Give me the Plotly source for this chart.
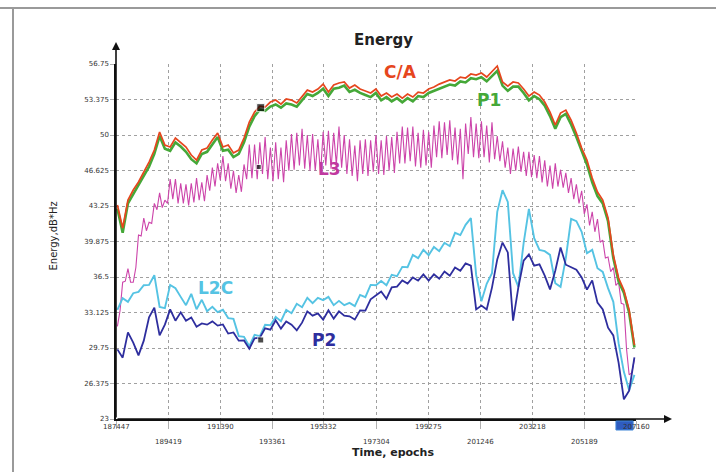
import plotly.graph_objects as go

# ---------------- data ----------------
EPOCHS = [187500, 187700, 187900, 188100, 188300, 188500, 188700, 188900, 189100, 189300,
          189500, 189700, 189900, 190100, 190300, 190500, 190700, 190900, 191100, 191300,
          191500, 191700, 191900, 192100, 192300, 192500, 192700, 192900, 193100, 193300,
          193500, 193700, 193900, 194100, 194300, 194500, 194700, 194900, 195100, 195300,
          195500, 195700, 195900, 196100, 196300, 196500, 196700, 196900, 197100, 197300,
          197500, 197700, 197900, 198100, 198300, 198500, 198700, 198900, 199100, 199300,
          199500, 199700, 199900, 200100, 200300, 200500, 200700, 200900, 201100, 201300,
          201500, 201700, 201900, 202100, 202300, 202500, 202700, 202900, 203100, 203300,
          203500, 203700, 203900, 204100, 204300, 204500, 204700, 204900, 205100, 205300,
          205500, 205700, 205900, 206100, 206300, 206500, 206700, 206900, 207100]

CA = [43.34, 41.16, 43.82, 44.77, 45.53, 46.48, 47.43, 48.57, 50.28, 49.05,
      48.86, 49.71, 49.24, 48.86, 48.10, 47.62, 48.57, 48.76, 49.52, 50.19,
      48.86, 49.05, 48.29, 48.57, 49.71, 51.23, 52.18, 52.75, 52.66, 53.13,
      53.32, 52.94, 53.42, 53.32, 53.04, 53.70, 54.27, 54.08, 54.37, 54.84,
      54.08, 54.75, 54.94, 55.04, 54.46, 54.75, 54.37, 54.18, 53.99, 54.37,
      53.70, 53.99, 53.61, 53.89, 53.51, 53.89, 53.61, 54.08, 53.99, 54.37,
      54.56, 54.84, 55.04, 55.23, 55.13, 55.51, 55.42, 55.80, 55.70, 55.89,
      55.51, 55.99, 56.56, 55.04, 54.65, 55.04, 54.94, 54.37, 53.70, 54.08,
      53.80, 53.13, 52.18, 50.95, 52.09, 52.37, 51.42, 50.19, 48.76, 47.62,
      45.91, 44.58, 43.82, 42.11, 38.59, 36.40, 35.26, 33.36, 30.03]

P1 = [43.0, 40.7, 43.5, 44.4, 45.2, 46.1, 47.0, 48.2, 49.9, 48.7,
      48.5, 49.3, 48.9, 48.4, 47.7, 47.3, 48.2, 48.4, 49.1, 49.8,
      48.5, 48.6, 47.9, 48.2, 49.3, 50.8, 51.8, 52.4, 52.3, 52.7,
      52.9, 52.6, 53.0, 52.9, 52.7, 53.3, 53.9, 53.7, 54.0, 54.4,
      53.7, 54.4, 54.5, 54.7, 54.1, 54.3, 54.0, 53.8, 53.6, 54.0,
      53.3, 53.6, 53.2, 53.5, 53.1, 53.5, 53.2, 53.7, 53.6, 54.0,
      54.2, 54.4, 54.6, 54.8, 54.7, 55.1, 55.0, 55.4, 55.3, 55.5,
      55.1, 55.6, 56.1, 54.7, 54.2, 54.6, 54.6, 54.0, 53.3, 53.7,
      53.4, 52.8, 51.8, 50.6, 51.7, 52.0, 51.0, 49.8, 48.4, 47.2,
      45.5, 44.2, 43.5, 41.8, 38.3, 36.1, 35.0, 33.1, 29.8]

L2C = [33.38, 34.49, 34.14, 34.96, 35.09, 35.72, 35.75, 36.67, 33.66, 33.54,
       35.75, 35.44, 34.61, 33.82, 34.90, 33.44, 34.33, 33.25, 33.66, 33.16,
       33.38, 32.59, 32.52, 30.88, 30.81, 29.92, 31.00, 30.88, 31.95, 31.92,
       32.71, 32.30, 33.38, 33.06, 33.95, 33.63, 34.52, 34.01, 34.52, 34.30,
       34.61, 33.82, 34.23, 33.82, 34.04, 33.73, 34.80, 34.58, 35.75, 35.72,
       36.13, 35.72, 36.70, 36.58, 37.46, 37.43, 38.60, 38.29, 39.08, 38.57,
       39.36, 38.96, 39.75, 39.43, 40.70, 40.48, 41.46, 42.09, 36.70, 34.20,
       35.85, 36.86, 42.69, 44.75, 43.64, 36.86, 35.56, 39.72, 42.98, 40.19,
       39.08, 38.96, 38.60, 35.91, 35.56, 38.29, 42.03, 41.81, 40.79, 38.76,
       39.08, 37.34, 36.99, 35.44, 34.14, 30.21, 27.48, 25.74, 27.20]

P2 = [29.62, 28.83, 31.23, 30.26, 29.05, 30.45, 32.66, 33.59, 30.95, 31.97,
      33.42, 32.35, 33.14, 32.35, 32.66, 31.78, 32.09, 31.97, 32.28, 31.88,
      31.99, 31.12, 31.23, 30.45, 30.47, 29.69, 30.66, 30.73, 31.62, 31.49,
      32.38, 31.59, 32.28, 31.97, 31.43, 32.16, 33.23, 32.83, 33.04, 32.45,
      33.33, 32.54, 33.23, 32.83, 32.76, 32.45, 33.33, 33.30, 34.37, 34.73,
      35.13, 34.44, 35.51, 35.58, 36.18, 35.87, 36.46, 36.15, 36.75, 36.15,
      36.75, 36.34, 37.03, 36.63, 37.41, 37.10, 37.79, 37.58, 33.42, 33.78,
      33.42, 35.49, 38.17, 39.77, 38.84, 32.35, 35.51, 38.05, 38.65, 37.58,
      37.70, 36.63, 35.32, 37.10, 39.31, 37.67, 37.41, 37.20, 36.46, 35.30,
      36.18, 34.06, 33.42, 31.68, 30.95, 28.36, 24.87, 25.70, 28.86]

L3_EPOCHS = [187500, 187600, 187700, 187800, 187900, 188000, 188100, 188200, 188300, 188400,
             188500, 188600, 188700, 188800, 188900, 189000, 189100, 189200, 189300, 189400,
             189500, 189600, 189700, 189800, 189900, 190000, 190100, 190200, 190300, 190400,
             190500, 190600, 190700, 190800, 190900, 191000, 191100, 191200, 191300, 191400,
             191500, 191600, 191700, 191800, 191900, 192000, 192100, 192200, 192300, 192400,
             192500, 192600, 192700, 192800, 192900, 193000, 193100, 193200, 193300, 193400,
             193500, 193600, 193700, 193800, 193900, 194000, 194100, 194200, 194300, 194400,
             194500, 194600, 194700, 194800, 194900, 195000, 195100, 195200, 195300, 195400,
             195500, 195600, 195700, 195800, 195900, 196000, 196100, 196200, 196300, 196400,
             196500, 196600, 196700, 196800, 196900, 197000, 197100, 197200, 197300, 197400,
             197500, 197600, 197700, 197800, 197900, 198000, 198100, 198200, 198300, 198400,
             198500, 198600, 198700, 198800, 198900, 199000, 199100, 199200, 199300, 199400,
             199500, 199600, 199700, 199800, 199900, 200000, 200100, 200200, 200300, 200400,
             200500, 200600, 200700, 200800, 200900, 201000, 201100, 201200, 201300, 201400,
             201500, 201600, 201700, 201800, 201900, 202000, 202100, 202200, 202300, 202400,
             202500, 202600, 202700, 202800, 202900, 203000, 203100, 203200, 203300, 203400,
             203500, 203600, 203700, 203800, 203900, 204000, 204100, 204200, 204300, 204400,
             204500, 204600, 204700, 204800, 204900, 205000, 205100, 205200, 205300, 205400,
             205500, 205600, 205700, 205800, 205900, 206000, 206100, 206200, 206300, 206400,
             206500, 206600, 206700, 206800, 206900, 207000, 207100]

L3 = [31.8, 33.3, 36.0, 36.1, 37.3, 36.0, 36.0, 37.4, 40.5, 40.4, 42.1, 40.9, 41.7, 41.6, 43.5, 42.9, 44.5, 43.1, 43.8, 43.5,
      45.8, 43.9, 45.8, 43.5, 45.4, 43.5, 45.3, 43.3, 45.4, 43.6, 45.9, 43.8, 45.5, 43.7, 46.2, 44.7, 46.9, 45.1, 47.3, 45.7,
      48.0, 45.6, 47.3, 44.9, 46.6, 44.5, 46.2, 44.6, 47.2, 45.8, 49.1, 45.9, 49.1, 45.8, 49.3, 46.3, 49.8, 45.8, 48.8, 45.6,
      49.3, 45.8, 48.8, 45.5, 49.5, 46.6, 50.1, 46.7, 50.2, 47.1, 50.6, 46.8, 50.0, 46.6, 50.1, 46.6, 49.6, 46.3, 50.3, 47.1,
      50.4, 46.8, 50.2, 47.2, 50.8, 46.9, 50.0, 46.3, 49.6, 46.1, 49.0, 45.6, 49.5, 46.3, 49.6, 46.1, 49.5, 46.5, 50.0, 46.3,
      49.5, 46.2, 49.9, 46.6, 49.8, 46.4, 50.3, 47.3, 50.8, 47.3, 50.7, 47.5, 50.8, 47.0, 50.2, 46.9, 50.5, 47.1, 50.3, 46.9,
      50.9, 47.9, 51.3, 47.8, 51.2, 48.1, 51.4, 47.6, 50.7, 47.2, 50.6, 45.8, 51.1, 48.2, 51.7, 47.9, 51.1, 47.8, 51.3, 47.9,
      50.9, 47.4, 51.2, 47.7, 49.9, 47.5, 49.4, 46.9, 48.8, 46.3, 48.7, 46.6, 48.9, 46.5, 48.4, 46.1, 48.4, 46.0, 48.1, 45.9,
      48.0, 45.5, 47.6, 45.1, 47.1, 44.9, 47.3, 45.1, 46.7, 45.0, 46.4, 44.5, 45.9, 43.9, 45.3, 43.5, 44.7, 42.5, 43.4, 41.4,
      42.7, 40.8, 42.0, 39.8, 40.0, 38.3, 38.4, 37.0, 37.4, 35.7, 36.0, 34.0, 33.9, 29.7, 27.2, 27.4, 28.7]

X_TICKS = [187447, 189419, 191390, 193361, 195332, 197304, 199275, 201246, 203218, 205189, 207160]
Y_TICKS = [23, 26.375, 29.75, 33.125, 36.5, 39.875, 43.25, 46.625, 50, 53.375, 56.75]
Y_TICK_TEXT = ["23", "26.375", "29.75", "33.125", "36.5", "39.875", "43.25", "46.625", "50", "53.375", "56.75"]

# cursor markers (black) on C/A, L3, P2
MARK_X = [192934, 192858, 192934]
MARK_Y = [52.6, 46.96, 30.51]
# selection marker below the time axis (epoch span)
BLOB_X = [206400, 207050]

SERIES_LABELS = ["C/A", "P1", "L3", "L2C", "P2"]
LABEL_X = [198231, 201599, 195545, 191231, 195318]
LABEL_Y = [55.98, 53.32, 46.76, 35.45, 30.51]

COL_CA = "#e6461e"
COL_P1 = "#45a838"
COL_L3 = "#cc44aa"
COL_L2C = "#55c3e3"
COL_P2 = "#2e2e9e"
LABEL_COLORS = [COL_CA, COL_P1, "#c0399f", COL_L2C, COL_P2]

FONT = "DejaVu Sans"

fig = go.Figure()
fig.add_trace(go.Scatter(x=L3_EPOCHS, y=L3, mode="lines", line=dict(color=COL_L3, width=1.1)))
fig.add_trace(go.Scatter(x=EPOCHS, y=L2C, mode="lines", line=dict(color=COL_L2C, width=1.9)))
fig.add_trace(go.Scatter(x=EPOCHS, y=P2, mode="lines", line=dict(color=COL_P2, width=1.8)))
fig.add_trace(go.Scatter(x=EPOCHS, y=P1, mode="lines", line=dict(color=COL_P1, width=2.6)))
fig.add_trace(go.Scatter(x=EPOCHS, y=CA, mode="lines", line=dict(color=COL_CA, width=1.7)))
fig.add_trace(go.Scatter(x=MARK_X, y=MARK_Y, mode="markers",
                         marker=dict(symbol="square", size=[8, 5, 6], color="black")))

L, R, T, B = 116, 80, 64, 53
W, H = 716, 472
pw, ph = W - L - R, H - T - B


def px(xp):
    return (xp - L) / pw


def py(yp):
    return (H - B - yp) / ph


annotations = []
# staggered x tick labels
for k, v in enumerate(X_TICKS):
    annotations.append(dict(x=v, y=py(433 if k % 2 == 0 else 448), xref="x", yref="paper",
                            text=str(v), showarrow=False, font=dict(family=FONT, size=7, color="#333")))
# series labels
for name, lx, ly, c in zip(SERIES_LABELS, LABEL_X, LABEL_Y, LABEL_COLORS):
    annotations.append(dict(x=lx, y=ly, xref="x", yref="y", text="<b>%s</b>" % name, showarrow=False,
                            font=dict(family=FONT, size=17, color=c)))
# title & axis titles
annotations.append(dict(x=px(383), y=py(29), xref="paper", yref="paper", text="<b>Energy</b>",
                        showarrow=False, font=dict(family=FONT, size=15, color="#222")))
annotations.append(dict(x=px(393), y=py(461), xref="paper", yref="paper", text="<b>Time, epochs</b>",
                        showarrow=False, font=dict(family=FONT, size=11, color="#222")))
annotations.append(dict(x=px(45), y=py(236), xref="paper", yref="paper", text="Energy,dB*Hz",
                        textangle=-90, showarrow=False, font=dict(family=FONT, size=10, color="#222")))
# axis arrows
annotations.append(dict(x=px(672), y=0, xref="paper", yref="paper", ax=-(672 - L), ay=0,
                        text="", showarrow=True, arrowhead=2, arrowsize=1, arrowwidth=1.6, arrowcolor="#111"))
annotations.append(dict(x=0, y=py(42), xref="paper", yref="paper", ax=0, ay=(H - B - 42),
                        text="", showarrow=True, arrowhead=2, arrowsize=1, arrowwidth=1.6, arrowcolor="#111"))

shapes = [
    dict(type="line", xref="paper", yref="paper", x0=px(0), x1=px(716), y0=py(8), y1=py(8),
         line=dict(color="#9a9a9a", width=2)),
    dict(type="line", xref="paper", yref="paper", x0=px(13), x1=px(13), y0=py(8), y1=py(472),
         line=dict(color="#9a9a9a", width=2)),
    dict(type="rect", xref="x", yref="paper", x0=BLOB_X[0], x1=BLOB_X[1], y0=py(430), y1=py(421),
         fillcolor="#2f5cc0", line=dict(color="#3f86d8", width=1), layer="above"),
]

fig.update_layout(
    width=W, height=H, autosize=False,
    margin=dict(l=L, r=R, t=T, b=B, pad=0),
    paper_bgcolor="white", plot_bgcolor="white",
    showlegend=False,
    annotations=annotations, shapes=shapes,
    font=dict(family=FONT, size=8, color="#333"),
)
fig.update_xaxes(range=[X_TICKS[0], X_TICKS[-1]], tickvals=X_TICKS, showticklabels=False,
                 showgrid=True, gridcolor="#a0a0a0", griddash="dot", gridwidth=1,
                 ticks="outside", ticklen=8, tickcolor="#b0b0b0",
                 showline=True, linecolor="#111", linewidth=1.5, zeroline=False)
fig.update_yaxes(range=[Y_TICKS[0], Y_TICKS[-1]], tickvals=Y_TICKS, ticktext=Y_TICK_TEXT,
                 tickfont=dict(family=FONT, size=7, color="#333"),
                 showgrid=True, gridcolor="#a0a0a0", griddash="dot", gridwidth=1,
                 ticks="outside", ticklen=4, tickcolor="#b0b0b0",
                 showline=True, linecolor="#111", linewidth=1.5, zeroline=False)

fig.write_html("out.html")
